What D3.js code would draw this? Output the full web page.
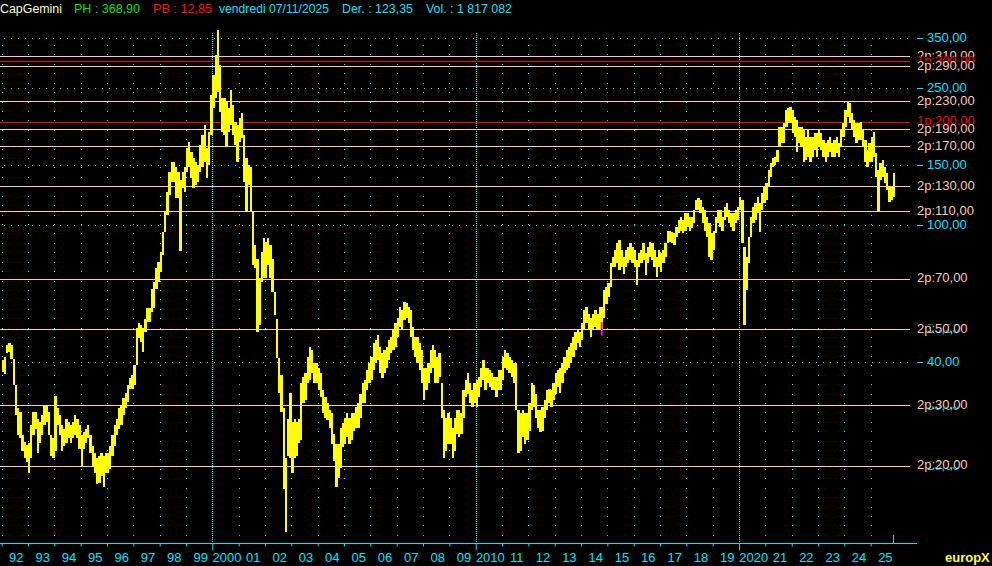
<!DOCTYPE html>
<html><head><meta charset="utf-8">
<script src="https://cdn.jsdelivr.net/npm/d3@7"></script>
<style>html,body{margin:0;padding:0;background:#000;}svg{display:block;}</style>
</head><body><svg id="c" width="992" height="566"></svg>
<script>
// ---- DATA (monthly high / low, Jan 1992 .. Nov 2025) ----
const firstYear = 1992;
const high = [
 40.5,41.5,45,45.5,44.8,40.8,34.3,29.5,28.6,24.6,23.5,23,            // 1992
 23.3,26.2,28.6,28.6,27.4,26.8,28,30,30,28.6,24.5,24,                // 1993
 32,29.5,28,26.2,25.6,27.4,26.8,26.2,26.8,28,27.4,26.2,              // 1994
 24.5,25,25.6,26.2,24.5,22.9,21.8,21,21.4,21.8,21.4,21.8,            // 1995
 21.8,22.9,24.5,26.2,27.4,29.5,30,31.4,32.5,34.3,35.9,36.6,          // 1996
 39.2,50.2,52,51.2,50.2,53.5,57.4,57.4,65.5,68.3,75,78.1,            // 1997
 83.6,95.4,109.3,125,143,152.8,152.8,147.9,143,135,143,147.9,        // 1998
 167.9,175,163.5,157,152.8,149.8,171.3,183,195.8,167.9,186.8,239.4,  // 1999
 273.7,312.9,369.9,292.6,234.6,234.6,228,219.4,247.5,223.9,199.8,195.8, // 2000
 205.3,212.2,183,157,149.8,147.9,109.3,87.5,80,70.2,83.6,91.6,       // 2001
 89.2,91.6,87.5,80,63.8,53.5,41,36.6,29.5,21,27.4,32.5,              // 2002
 26.8,27.4,26.8,27.4,34.9,36.2,37.1,41.3,44.2,43.3,39.7,39.7,        // 2003
 38.6,37.1,33.1,31.6,30.4,29,28.4,24.8,23.2,23.2,25.8,26.6,          // 2004
 27.6,28.4,27.6,28.4,28.4,29.6,30.4,32.3,34.9,35.4,37.9,39.7,        // 2005
 41.3,45.5,46.3,47.9,44.2,42.4,43.3,44.2,46.3,47.2,49.5,52,          // 2006
 53.9,57.8,56.6,59.7,59.3,57.8,56.6,50.5,47.2,47.2,45.5,43.3,        // 2007
 38.6,38.6,39.7,43.3,44.8,43.3,41.3,42.4,34.9,29,27.6,28.4,          // 2008
 27.6,25.8,27.6,29,29,28.4,33.1,35.4,37.1,34.9,33.1,34.9,            // 2009
 35.4,36.2,38.6,40.5,38.6,38.6,37.9,37.1,36.2,36.2,37.9,37.9,        // 2010
 41.3,43.3,42.4,41.3,40.5,39.7,39.7,29,28.4,29,28.4,28.4,            // 2011
 30.4,34.9,34.3,32.3,29,29,29.6,31,33.1,33.5,33.1,34.9,              // 2012
 37.1,37.9,38.6,39.7,41.3,43.3,44.2,45.5,47.2,48.8,49.5,48.8,        // 2013
 52,56.6,57.8,55.3,53.9,55.3,56.6,55.3,57.8,57.8,64.7,66,            // 2014
 67.8,77.5,80.8,84.6,88.6,90.4,84.6,80.8,84.6,86.3,88.6,86.3,        // 2015
 84.6,79.1,82.9,84.6,88.6,82.9,86.3,89.2,88.6,84.6,80.8,84.6,        // 2016
 82.9,84.6,88.6,96.5,96.5,95.4,94.8,98.8,103.6,105.6,103.6,108.5,    // 2017
 108.5,105.6,105.6,110.8,118.5,120,118.5,113,110.8,105.6,101.6,94.8, // 2018
 96.5,105.6,110.8,110.8,105.6,113,116,110.8,108.5,108.5,110.8,113,   // 2019
 120.8,118.5,86.3,80.8,92.5,105.6,113,116,120.8,116,124,129.5,       // 2020
 132.7,144.9,151.8,156.9,158,165.6,193.2,193.2,198.5,216.5,219.4,220.9, // 2021
 216.5,206.6,202.5,193.2,193.2,189.4,180.7,189.4,180.7,180.7,185.6,185.6, // 2022
 189.4,185.6,177.1,173.5,177.1,180.7,173.5,177.1,180.7,173.5,189.4,198.5, // 2023
 216.5,229,227.3,211.8,202.5,198.5,198.5,199.8,189.4,177.1,165.6,173.5, // 2024
 180.7,186.8,162.4,144.9,151.8,154.9,147.8,141.9,129.5,129.5,141.9   // 2025
];
const low = [
 37.5,37,42.5,42.7,40.8,34.3,28,24.6,24,22,21,20.5,
 19,21,24.5,25.6,21.8,23.3,24.5,26.2,26.8,24.5,21.4,21.1,
 22,26.2,24.5,22.1,22.9,23.3,24,23.3,24,24.5,24,22.4,
 20,22.4,23.3,24,21.8,20,19.1,17.7,17.8,18.7,17.3,19.1,
 19.1,19.6,21.4,22.9,24.5,25.6,26.2,28,29.5,30.6,33.5,33.5,
 34.3,39.2,46.9,45.7,42.7,48.8,52.2,52.2,55.9,57.4,65.5,68.3,
 73,81.8,95.4,107,122.5,133.7,133.7,120.1,120,84,128.4,125,
 143,147.9,137,128.4,131,133.7,143,147.9,152.8,137,149.8,183,
 219.4,234.6,244.3,213.7,186.8,183.1,169,186.8,195.8,183.1,171.3,152.8,
 174.8,179.6,133.7,109.3,131,109.3,76.5,75,48.8,51.2,68.3,70.2,
 70.2,76.5,70.2,63.8,54.7,41,32.5,28.6,17.1,12.85,21.4,21,
 19.1,21,21.4,23.3,23.7,30.4,31,34.9,35.4,37.1,34.9,34.9,
 33.1,31.6,28.4,27.6,27.1,25.8,23.2,20.7,17.3,18.4,19.7,22.6,
 23.2,24.2,23.2,23.7,25.3,25.8,25.8,27.6,30.4,30.4,33.1,34.9,
 35.4,37.9,39.7,40.5,37.1,35.9,37.1,38.6,40.5,42.4,43.3,44.2,
 47.2,50.5,49.5,52.9,53.9,51.9,47.2,43.3,41.3,39.7,37.9,34.9,
 31,33.1,34.9,37.1,38.6,34.9,34.9,36.2,27.6,21.1,22.1,23.2,
 23.2,21,22.1,24.8,24.2,24.8,27.6,31.6,32.3,30.4,29.6,30.4,
 29.6,31.6,33.8,35.4,33.1,34.9,33.8,33.1,33.1,31.6,33.1,33.1,
 35.4,38.6,37.9,37.1,36.2,34.9,29,21.8,22.1,24.2,23.2,23.7,
 25.3,29,29.6,27.6,25.8,25,25.3,27.6,29,30.4,29.6,31,
 32.3,33.8,32.5,34.9,37.1,37.9,38.6,39.7,41.3,43.3,45.5,44.2,
 46.3,49.5,51.9,49.5,47.2,49.5,50.5,49.5,49.5,49.5,53.9,59,
 61.8,66,75.5,75.5,77.5,74,75.5,72,75.5,77.5,79.1,77.5,
 75.5,66.9,75.5,77.5,79.1,71.6,77.5,80.8,79.1,75.5,70.6,75.5,
 73,77.5,80.8,88.6,89.2,88.6,87.5,92.5,94.8,96.5,94.8,96.5,
 98.8,96.5,98.1,101.6,110.8,110.8,108.5,101.6,96.5,92.5,80.8,79.1,
 84.6,94.8,101.6,98.8,96.5,103.6,105.6,101.6,98.8,96.5,101.6,103.6,
 110.8,88.6,51.2,64.7,77.5,92.5,101.6,103.6,108.5,95.4,110.8,116,
 118.5,129.5,138.1,147.8,149.8,152.8,169,173.5,173.5,193.2,198.5,198.5,
 185.6,180.7,163.5,173.5,169,152.8,154.9,158,152.8,158,165.6,158,
 169,165.6,158,152.8,158,163.5,158,158,162.4,158,169,180.7,
 193.2,206.6,198.5,189.4,180.7,173.5,177.1,177.1,169,153.2,147.8,153.2,
 153.2,158,138.1,110.2,135.5,138.1,132.7,126.7,116.9,118.5,120.8
];
const markerMonth = [[2014, 9]];      // magenta marker (year, month index)
const markerHigh = [52.3];
const markerLow = [47.8];

const levels2p = [310, 290, 230, 190, 170, 130, 110, 70, 50, 30, 20];
const levels1p = [300, 200];
const gridLevels = [350, 250, 150, 100, 40];
const hiddenLevels = [50, 30, 20];
const yearLabels = ["92","93","94","95","96","97","98","99","2000","01","02","03","04","05","06","07","08","09","2010","11","12","13","14","15","16","17","18","19","2020","21","22","23","24","25"];
const header = [
  {t:"CapGemini", c:"#ffffc8", x:0, w:62},
  {t:"PH : 368,90", c:"#00e600", x:74, w:66},
  {t:"PB : 12,85", c:"#ff1010", x:153, w:59},
  {t:"vendredi 07/11/2025", c:"#00e5ff", x:219, w:110},
  {t:"Der. : 123,35", c:"#00e5ff", x:342, w:71},
  {t:"Vol. : 1 817 082", c:"#00e5ff", x:426, w:86}
];
const lastDate = [2025, 10, 7];

// ---- CHART ----
const FONT = "'Liberation Sans', Arial, sans-serif";
const CYAN = "#00e5ff", DOT = "#00f0f0", PINK = "#ffc8c8", PINKTXT = "#ffc8b4", RED = "#ff0000";
const svg = d3.select("#c");
svg.append("rect").attr("width",992).attr("height",566).attr("fill","#000");

const x = d3.scaleUtc().domain([Date.UTC(2000,0,1), Date.UTC(2020,0,1)]).range([212.3, 739]);
const y = d3.scaleLog().domain([100, 350]).range([225.3, 38.15]);
const fmt = v => d3.format(".2f")(v).replace(".", ",");

const years = d3.range(firstYear, 2026);
const minorYears = years.filter(yr => yr % 10 !== 0);
const majorYears = years.filter(yr => yr % 10 === 0);

// dotted grid columns
const g = svg.append("g").attr("shape-rendering","crispEdges");
const dotYs = d3.range(45, 540, 9.42);
minorYears.forEach(yr => {
  const xx = Math.round(x(Date.UTC(yr,0,1)));
  g.selectAll(null).data(dotYs).enter().append("rect")
    .attr("x", xx).attr("y", d => Math.round(d)).attr("width",1).attr("height",1).attr("fill",DOT);
});
// dotted rows at grid levels
const dotXs = d3.range(4, 908, 7);
gridLevels.concat(hiddenLevels).forEach(v => {
  const yy = Math.round(y(v));
  g.selectAll(null).data(dotXs).enter().append("rect")
    .attr("x", d => d).attr("y", yy).attr("width",1).attr("height",1).attr("fill",DOT);
});
// decade vertical dotted lines
majorYears.forEach(yr => {
  const xx = Math.round(x(Date.UTC(yr,0,1))) + 0.5;
  svg.append("line").attr("x1",xx).attr("x2",xx).attr("y1",33).attr("y2",543)
    .attr("stroke",DOT).attr("stroke-width",1).attr("stroke-dasharray","1,1");
});

// level lines
levels2p.forEach(v => {
  const yy = Math.round(y(v)) + 0.5;
  svg.append("line").attr("x1",0).attr("x2",910).attr("y1",yy).attr("y2",yy).attr("stroke",PINK).attr("stroke-width",1);
});
levels1p.forEach(v => {
  const yy = Math.round(y(v)) + 0.5;
  svg.append("line").attr("x1",0).attr("x2",910).attr("y1",yy).attr("y2",yy).attr("stroke",RED).attr("stroke-width",1);
});

// price bars
const months = d3.range(high.length).map(i => new Date(Date.UTC(firstYear, i, 1)));
const bars = svg.append("g").attr("fill","#ffff00").attr("shape-rendering","crispEdges");
months.forEach((m, i) => {
  const x0 = x(m), x1 = x(new Date(Date.UTC(firstYear, i+1, 1)));
  const yt = y(high[i]), yb = y(low[i]);
  bars.append("rect").attr("x", x0).attr("width", Math.max(1, x1 - x0 + 0.2))
    .attr("y", yt).attr("height", Math.max(1, yb - yt));
});
markerMonth.forEach((d, i) => {
  const x0 = x(Date.UTC(d[0], d[1], 1));
  svg.append("rect").attr("x", x0).attr("width", 2).attr("y", y(markerHigh[i]))
    .attr("height", y(markerLow[i]) - y(markerHigh[i])).attr("fill", "#ff00ff");
});

// right labels: cyan value labels, then level labels (opaque boxes) in descending order
const lab = svg.append("g").attr("font-family",FONT).attr("font-size",13);
gridLevels.forEach(v => {
  const yy = Math.round(y(v)) + 0.5;
  lab.append("line").attr("x1",917).attr("x2",923).attr("y1",yy).attr("y2",yy).attr("stroke",CYAN);
  lab.append("text").attr("x",927).attr("y", y(v) + 3.8).attr("fill",CYAN).text(fmt(v));
});
hiddenLevels.forEach(v => {
  lab.append("text").attr("x",927).attr("y", y(v) + 4.5).attr("fill",CYAN).text(fmt(v));
});
const allLevels = levels2p.map(v => ({v, p:"2p", c:PINKTXT})).concat(levels1p.map(v => ({v, p:"1p", c:RED})))
  .sort((a,b) => b.v - a.v);
allLevels.forEach(d => {
  const base = y(d.v) + 3.7;
  const box = lab.append("rect").attr("x",916).attr("y", base - 8).attr("height", 5.8).attr("fill","#000");
  const t = lab.append("text").attr("x",917).attr("y", base).attr("fill",d.c).text(d.p + ":" + fmt(d.v));
  box.attr("width", t.node().getComputedTextLength() + 2);
});

// bottom axis
const axisY = 543.5;
const ax = svg.append("g").attr("transform", `translate(0,${axisY})`)
  .call(d3.axisBottom(x).tickValues(minorYears.map(yr => new Date(Date.UTC(yr,0,1)))).tickSize(3).tickFormat(""));
ax.select(".domain").remove();
ax.selectAll("line").attr("stroke", CYAN);
const ax2 = svg.append("g").attr("transform", `translate(0,${axisY})`)
  .call(d3.axisBottom(x).tickValues(majorYears.map(yr => new Date(Date.UTC(yr,0,1)))).tickSize(7).tickFormat(""));
ax2.select(".domain").remove();
ax2.selectAll("line").attr("stroke", CYAN);
svg.append("line").attr("x1",0).attr("x2",917).attr("y1",axisY).attr("y2",axisY).attr("stroke",CYAN);
const xl = Math.round(x(Date.UTC(lastDate[0], lastDate[1], lastDate[2]))) + 0.5;
svg.append("line").attr("x1",xl).attr("x2",xl).attr("y1",535).attr("y2",axisY).attr("stroke",CYAN);

yearLabels.forEach((t, i) => {
  const yr = firstYear + i;
  const xm = (x(Date.UTC(yr,0,1)) + x(Date.UTC(yr+1,0,1))) / 2 + 1.5;
  svg.append("text").attr("x", xm).attr("y", 562).attr("text-anchor","middle")
    .attr("fill", CYAN).attr("font-family", FONT).attr("font-size", 13).text(t);
});
svg.append("text").attr("x", 945).attr("y", 562).attr("fill", "#ffff40")
  .attr("font-family", FONT).attr("font-size", 13).attr("font-weight","bold").text("europX");

// header
header.forEach(h => {
  svg.append("text").attr("x", h.x).attr("y", 12.7).attr("fill", h.c)
    .attr("font-family", FONT).attr("font-size", 13)
    .attr("textLength", h.w).attr("lengthAdjust", "spacingAndGlyphs").text(h.t);
});
</script>
</body></html>
